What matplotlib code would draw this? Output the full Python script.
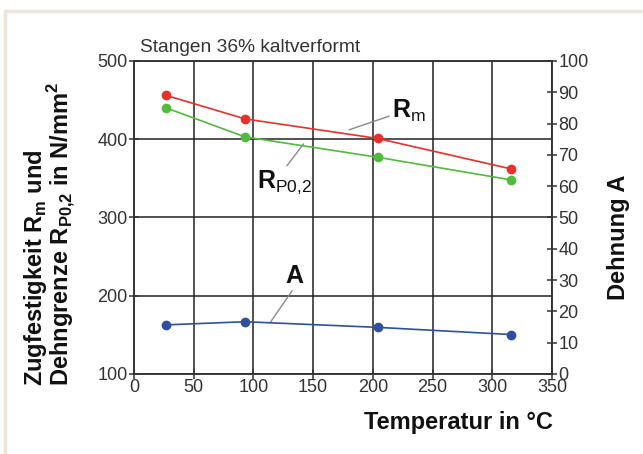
import matplotlib
matplotlib.use("Agg")
import matplotlib.pyplot as plt
from matplotlib.patches import Rectangle

plt.rcParams['font.family'] = ['Liberation Sans', 'DejaVu Sans']
plt.rcParams['mathtext.fontset'] = 'custom'
plt.rcParams['mathtext.rm'] = 'Liberation Sans:bold'
plt.rcParams['mathtext.bf'] = 'Liberation Sans:bold'
plt.rcParams['mathtext.sf'] = 'Liberation Sans'

# data
temp = [27, 93, 204, 316]
rm = [456, 426, 401, 362]        # N/mm2
rp02 = [440, 403, 377, 348]      # N/mm2
dehnung = [15.7, 16.7, 14.9, 12.6]  # %

x_ticks = [0, 50, 100, 150, 200, 250, 300, 350]
y_left_ticks = [100, 200, 300, 400, 500]
y_right_ticks = [0, 10, 20, 30, 40, 50, 60, 70, 80, 90, 100]

W, H = 643, 454
fig = plt.figure(figsize=(W / 100, H / 100), dpi=100)

# light frame round the picture
fig.patches.append(Rectangle((5 / W, -0.05), 1.1, 1 - 11 / H + 0.05,
                             transform=fig.transFigure, fill=False,
                             edgecolor='#efe4dc', lw=2.5))

ax = fig.add_axes([134 / W, 1 - 374 / H, (552 - 134) / W, (374 - 61) / H])
ax2 = ax.twinx()

grey = '#333333'
ax.set_xlim(0, 350)
ax.set_ylim(100, 500)
ax.set_xticks(x_ticks)
ax.set_yticks(y_left_ticks)
ax.grid(True, color='#222222', lw=1.1)
ax2.set_ylim(0, 100)
ax2.set_yticks(y_right_ticks)

for a in (ax, ax2):
    for s in a.spines.values():
        s.set_color(grey)
        s.set_linewidth(1.1)
    a.tick_params(direction='inout', length=7, width=1.1, color=grey,
                  labelcolor=grey, labelsize=13, pad=1)
ax.tick_params(axis='x', pad=0)

ax.plot(temp, rm, '-o', color='#e8302c', lw=1.2, ms=6, zorder=5)
ax.plot(temp, rp02, '-o', color='#50bb3c', lw=1.2, ms=6, zorder=5)
ax2.plot(temp, dehnung, '-o', color='#2f4f9f', lw=1.2, ms=6, zorder=5)

lead = dict(arrowstyle='-', color='#8a8a8a', lw=1, shrinkA=0, shrinkB=0)
ax.annotate(r'R$_\mathsf{m}$', xy=(180, 412), xytext=(216, 427),
            fontsize=18, fontweight='bold', color='#111111',
            ha='left', va='baseline',
            arrowprops=dict(lead, relpos=(0, 0.35)))
ax.annotate(r'R$_\mathsf{P0{,}2}$', xy=(142, 394), xytext=(103, 338),
            fontsize=18, fontweight='bold', color='#111111',
            ha='left', va='baseline',
            arrowprops=dict(lead, relpos=(0.5, 1.0)))
ax2.annotate('A', xy=(114, 16.4), xytext=(134, 27.5),
             fontsize=18, fontweight='bold', color='#111111',
             ha='center', va='bottom',
             arrowprops=dict(lead, relpos=(0.5, 0)))

fig.text(140 / W, 1 - 52 / H, 'Stangen 36% kaltverformt', fontsize=13.8,
         color=grey, ha='left', va='baseline')
fig.text(458 / W, 1 - 423 / H, 'Temperatur in °C', fontsize=17,
         fontweight='bold', color='#111111', ha='center', va='center')
fig.text(50 / W, 1 - 386 / H,
         'Zugfestigkeit R$_\\mathrm{m}$ und\n'
         'Dehngrenze R$_\\mathrm{P0{,}2}$ in N/mm$^\\mathrm{2}$',
         rotation=90, fontsize=17, fontweight='bold', color='#111111',
         ha='center', va='bottom', multialignment='left', linespacing=0.82)
fig.text(618 / W, 1 - 237 / H, 'Dehnung A', rotation=90, fontsize=17,
         fontweight='bold', color='#111111', ha='center', va='center')

fig.savefig('out.png', dpi=100)
